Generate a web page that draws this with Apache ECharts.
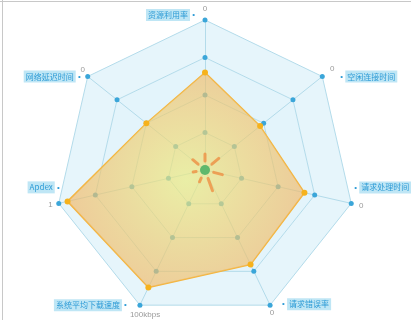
<!DOCTYPE html>
<html>
<head>
<meta charset="utf-8">
<script src="https://cdn.jsdelivr.net/npm/echarts@6/dist/echarts.min.js"></script>
<style>
  html, body { margin: 0; padding: 0; background: #fff; }
  #chart { width: 411px; height: 320px; }
</style>
</head>
<body>
<div id="chart"></div>
<script>
// data
const indicatorNames = ['资源利用率', '网络延迟时间', 'Apdex', '系统平均下载速度', '请求错误率', '请求处理时间', '空闲连接时间'];
const indicatorValues = ['0', '0', '1', '100kbps', '0', '0', '0'];
const scoreValues = [65, 50, 94, 87, 70, 68, 47];
const maxValue = 100;
const ringLevels = [25, 50, 75, 100];

// layout
const cx = 205, cy = 170, R = 150;
// label offsets from each vertex: [dx, dy, align] for the name box and the value text
const boxOffsets = [[-10, -5, 'right'], [-7, 0, 'right'], [1, -16, 'right'], [-13, 0, 'right'], [12, -1, 'left'], [3, -16, 'left'], [18, 0, 'left']];
const valOffsets = [[0, -11, 'center'], [-5, -7, 'center'], [-6, 1, 'right'], [-10, 10, 'left'], [2, 8, 'center'], [10, 2, 'center'], [10, -8, 'center']];
const rays = [[-90, 9, 16], [-140, 9, 16], [-40, 9, 18], [15, 9, 18], [70, 9, 22], [115, 9, 13], [170, 9, 12]];

function vertex(i) {
  const a = (90 + i * 360 / indicatorNames.length) * Math.PI / 180;
  return [cx + R * Math.cos(a), cy - R * Math.sin(a)];
}

const graphics = [
  {type: 'line', shape: {x1: 2.5, y1: 0, x2: 2.5, y2: 320}, style: {stroke: '#c8c8c8', lineWidth: 1}},
  {type: 'line', shape: {x1: 0, y1: 1.5, x2: 411, y2: 1.5}, style: {stroke: '#c8c8c8', lineWidth: 1}},
];

indicatorNames.forEach((name, i) => {
  const [vx, vy] = vertex(i);
  const b = boxOffsets[i], v = valOffsets[i];
  const txt = b[2] === 'right' ? '{box|' + name + '}{dot| •}' : '{dot|• }{box|' + name + '}';
  graphics.push({
    type: 'text', z: 20,
    style: {
      x: vx + b[0], y: vy + b[1], text: txt, align: b[2], verticalAlign: 'middle',
      rich: {
        box: {backgroundColor: '#bfe6f5', fill: '#2d9bd6', fontSize: 8, padding: [2, 2], fontFamily: 'Noto Sans CJK SC'},
        dot: {fill: '#2d9bd6', fontSize: 8}
      }
    }
  });
  graphics.push({
    type: 'text', z: 20,
    style: {x: vx + v[0], y: vy + v[1], text: indicatorValues[i], align: v[2], verticalAlign: 'middle', fill: '#9a9a9a', fontSize: 8}
  });
});

rays.forEach(r => {
  const a = r[0] * Math.PI / 180;
  graphics.push({
    type: 'line', z: 20,
    shape: {x1: cx + r[1] * Math.cos(a), y1: cy + r[1] * Math.sin(a), x2: cx + r[2] * Math.cos(a), y2: cy + r[2] * Math.sin(a)},
    style: {stroke: '#ef8a3c', lineWidth: 3, lineCap: 'round', opacity: 0.75}
  });
});
graphics.push({type: 'circle', z: 21, shape: {cx: cx, cy: cy, r: 5}, style: {fill: '#5fb86c'}});

const option = {
  animation: false,
  radar: {
    center: [cx, cy],
    radius: R,
    startAngle: 90,
    splitNumber: 4,
    shape: 'polygon',
    indicator: indicatorNames.map(n => ({name: n, max: maxValue, min: 0})),
    axisName: {show: false},
    axisLine: {lineStyle: {color: '#b3dbea'}},
    splitLine: {lineStyle: {color: '#b3dbea'}},
    splitArea: {areaStyle: {color: ['#e3f4fb', '#e6f5fb']}}
  },
  series: [
    {
      type: 'radar',
      z: 2,
      symbol: 'circle',
      symbolSize: 5,
      itemStyle: {color: '#3ba6d9'},
      lineStyle: {opacity: 0},
      data: ringLevels.map(l => ({value: indicatorNames.map(() => l)}))
    },
    {
      type: 'radar',
      z: 3,
      symbol: 'circle',
      symbolSize: 6,
      itemStyle: {color: '#f6b21c'},
      lineStyle: {color: '#f4b43a', width: 1.5},
      areaStyle: {
        color: {
          type: 'radial', x: 0.5, y: 0.5, r: 0.6,
          colorStops: [
            {offset: 0, color: 'rgba(236,236,130,0.7)'},
            {offset: 1, color: 'rgba(242,178,100,0.65)'}
          ]
        },
        opacity: 1
      },
      data: [{value: scoreValues}]
    }
  ],
  graphic: graphics
};

const myChart = echarts.init(document.getElementById('chart'));
myChart.setOption(option);
</script>
</body>
</html>
